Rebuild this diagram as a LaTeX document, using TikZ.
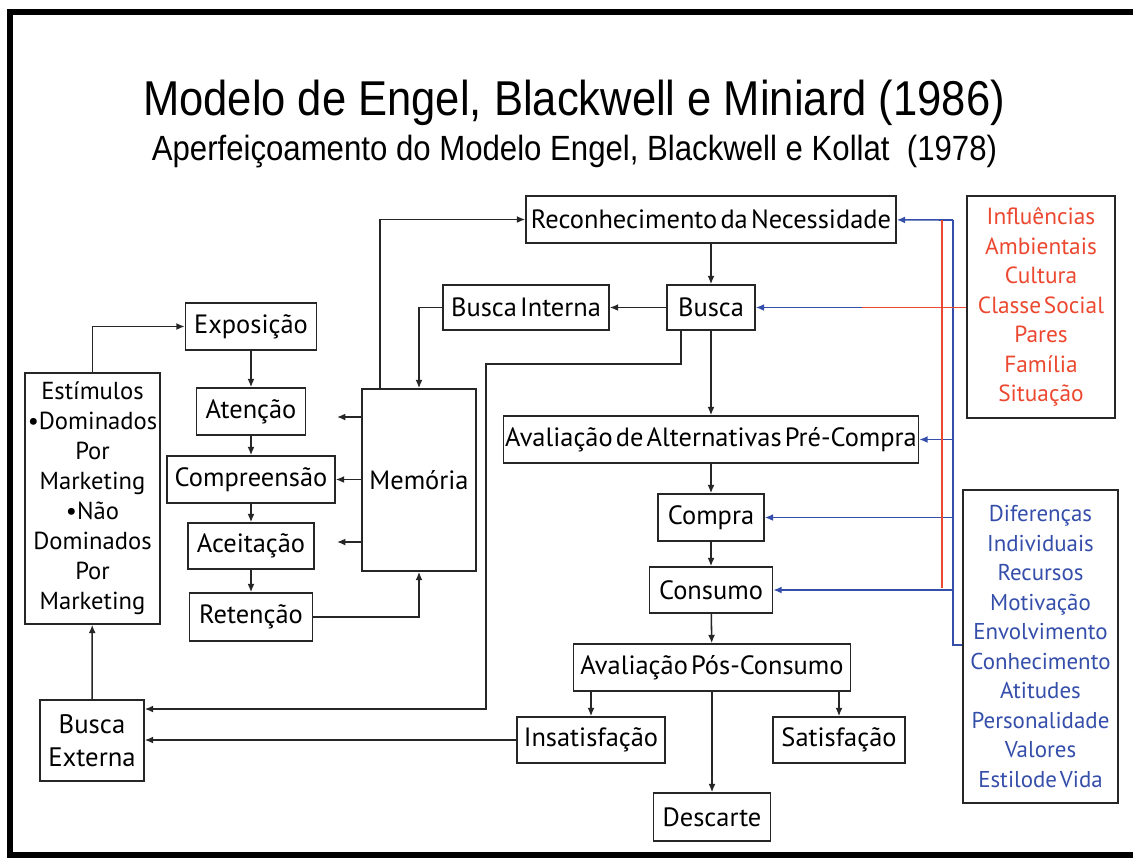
\documentclass[tikz,border=0pt]{standalone}
\usepackage{fontspec}
\setmainfont{PT Sans}[WordSpace=0.45]
\newfontfamily\titlefont[FakeStretch=0.89]{Liberation Sans}
\usepackage{xcolor}
\usetikzlibrary{arrows.meta,positioning}

\newlength{\px}\setlength{\px}{0.025cm}
\definecolor{infred}{RGB}{236,72,48}
\definecolor{difblue}{RGB}{52,78,170}

\tikzset{
  caixa/.style 2 args={draw=black!85, line width=1.1pt, inner sep=0pt,
    minimum width=#1\px, minimum height=#2\px, align=center,
    font=\fontsize{18.8}{22}\selectfont},
  seta/.style={draw=black!85, line width=1.1pt, -{Latex[length=6pt,width=5pt]}},
  linhaaz/.style={difblue, line width=1.1pt},
  setaaz/.style={linhaaz, -{Latex[length=6pt,width=5pt]}},
  linhaverm/.style={infred, line width=1.1pt},
}

\begin{document}
\begin{tikzpicture}[x=0.025cm, y=-0.025cm]

\useasboundingbox (0,0) rectangle (1133,857);
\clip (0,0) rectangle (1133,857);
\fill[white] (0,0) rectangle (1133,857);
\draw[line width=4.3pt] (1140,12) -- (10,12) -- (10,855) -- (1140,855); % moldura

% titulos
\node[anchor=base, font=\titlefont\fontsize{34.8}{40}\selectfont] (tit) at (574,115) {Modelo de Engel, Blackwell e Miniard (1986)};
\node[anchor=base, font=\titlefont\fontsize{24.9}{30}\selectfont] (subtit) at (574.5,160) {Aperfeiçoamento do Modelo Engel, Blackwell e Kollat~ (1978)};

% coluna central
\node[caixa={370}{47}] (rec) at (711,219.5) {Reconhecimento da Necessidade};
\node[caixa={88}{45}] (busca) at (711,307.5) {Busca};
\node[caixa={166}{45}] (bint) at (526,307.5) {Busca Interna};
\node[caixa={415}{47}] (aval) at (711,439.5) {Avaliação de Alternativas Pré-Compra};
\node[caixa={106}{47}] (compra) at (711,517.5) {Compra};
\node[caixa={123}{46}] (cons) at (711,590) {Consumo};
\node[caixa={277}{47}] (apos) at (712,667.5) {Avaliação Pós-Consumo};
\node[caixa={148}{46}] (insat) at (591,740) {Insatisfação};
\node[caixa={132}{46}] (sat) at (839,740) {Satisfação};
\node[caixa={117}{48}] (desc) at (712,817) {Descarte};

% lado esquerdo
\node[caixa={104}{81}, font=\fontsize{19}{23.5}\selectfont] (bext) at (92,740.5) {Busca\\Externa};
\node[caixa={135}{251}, font=\fontsize{17.5}{21.3}\selectfont] (est) at (92.5,498.5)
  {Estímulos\\•Dominados\\Por\\Marketing\\•Não\\Dominados\\Por\\Marketing};
\node[caixa={131}{47}] (expo) at (251,326.5) {Exposição};
\node[caixa={109}{47}] (aten) at (251,411.5) {Atenção};
\node[caixa={168}{47}] (comp) at (251,479.5) {Compreensão};
\node[caixa={126}{46}] (acei) at (251,546) {Aceitação};
\node[caixa={123}{48}] (ret) at (251,617) {Retenção};
\node[caixa={114}{182}] (mem) at (419,480) {Memória};

% influencias
\node[caixa={148}{222}, text=infred, font=\fontsize{16.6}{21}\selectfont] (amb) at (1041,307)
  {Influências\\Ambientais\\Cultura\\Classe Social\\Pares\\Família\\Situação};
\node[caixa={155}{313}, text=difblue, font=\fontsize{16.3}{21}\selectfont] (ind) at (1040.5,646.5)
  {Diferenças\\Individuais\\Recursos\\Motivação\\Envolvimento\\Conhecimento\\Atitudes\\Personalidade\\Valores\\Estilode Vida};

\coordinate (m1) at (337,417);
\coordinate (m3) at (337,542);
\coordinate (mtop) at (380,389);
\coordinate (bs) at (681,330);
\coordinate (bt) at (953,220);
\coordinate (bb) at (953,645);
\coordinate (rt) at (942,220);
\coordinate (rb) at (942,588);
\coordinate (rl) at (862,307.5);

% setas pretas
\draw[seta] (rec) -- (busca);
\draw[seta] (busca) -- (bint);
\draw[seta] (busca) -- (aval);
\draw[seta] (aval) -- (compra);
\draw[seta] (compra) -- (cons);
\draw[seta] (cons) -- (apos);
\draw[seta] (apos.south -| insat) -- (insat);
\draw[seta] (apos.south -| sat) -- (sat);
\draw[seta] (apos) -- (desc);
\draw[seta] (insat) -- (bext.east |- insat);
\draw[seta] (bs) |- (486,364) |- (bext.east |- 0,709);
\draw[seta] (bext) -- (est);
\draw[seta] (est.north) |- (expo);
\draw[seta] (expo) -- (aten);
\draw[seta] (aten) -- (comp);
\draw[seta] (comp) -- (acei);
\draw[seta] (acei) -- (ret);
\draw[seta] (ret) -| (mem.south);
\draw[seta] (mem.west |- m1) -- (m1);
\draw[seta] (mem.west |- comp) -- (comp);
\draw[seta] (mem.west |- m3) -- (m3);
\draw[seta] (mtop) |- (rec.west);
\draw[seta] (bint) -| (mem.north);

% linhas azuis
\draw[linhaaz] (ind.west |- bb) -- (bb) -- (bt);
\draw[setaaz] (bt) -- (rec);
\draw[setaaz] (bt |- busca) -- (busca);
\draw[setaaz] (bt |- aval) -- (aval);
\draw[setaaz] (bt |- compra) -- (compra);
\draw[setaaz] (bt |- cons) -- (cons);

% linhas vermelhas
\draw[linhaverm] (rt) -- (rb);
\draw[linhaverm] (amb.west |- rl) -- (rl);

\end{tikzpicture}
\end{document}
